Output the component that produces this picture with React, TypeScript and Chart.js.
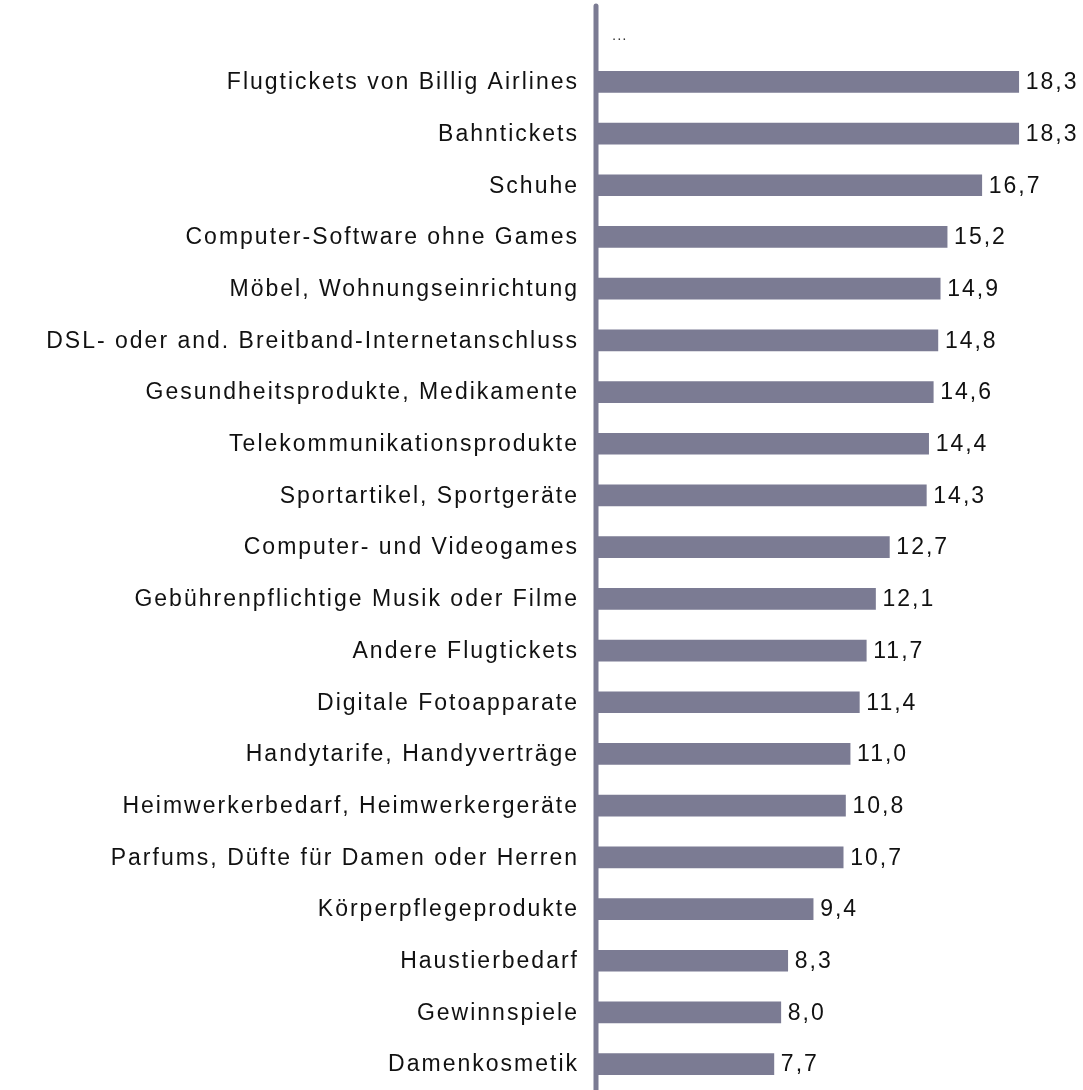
import React, { useEffect, useRef } from "react";
import { Chart, registerables } from "chart.js";

Chart.register(...registerables);

const categories: string[] = [
  "Flugtickets von Billig Airlines",
  "Bahntickets",
  "Schuhe",
  "Computer-Software ohne Games",
  "Möbel, Wohnungseinrichtung",
  "DSL- oder and. Breitband-Internetanschluss",
  "Gesundheitsprodukte, Medikamente",
  "Telekommunikationsprodukte",
  "Sportartikel, Sportgeräte",
  "Computer- und Videogames",
  "Gebührenpflichtige Musik oder Filme",
  "Andere Flugtickets",
  "Digitale Fotoapparate",
  "Handytarife, Handyverträge",
  "Heimwerkerbedarf, Heimwerkergeräte",
  "Parfums, Düfte für Damen oder Herren",
  "Körperpflegeprodukte",
  "Haustierbedarf",
  "Gewinnspiele",
  "Damenkosmetik",
];

const values: number[] = [
  18.3, 18.3, 16.7, 15.2, 14.9, 14.8, 14.6, 14.4, 14.3, 12.7, 12.1, 11.7, 11.4,
  11.0, 10.8, 10.7, 9.4, 8.3, 8.0, 7.7,
];

const headerText = "...";

const BAR_COLOR = "#7b7b93";
const FONT = '23px "Liberation Sans", Arial, sans-serif';

const fmt = (v: number) => v.toFixed(1).replace(".", ",");

const labelPlugin = {
  id: "customLabels",
  afterDatasetsDraw(chart: any) {
    const ctx = chart.ctx as CanvasRenderingContext2D;
    const yScale = chart.scales.y;
    const xScale = chart.scales.x;
    const area = chart.chartArea;
    const x0 = xScale.getPixelForValue(0);
    ctx.save();
    // axis line
    ctx.strokeStyle = BAR_COLOR;
    ctx.lineWidth = 5;
    ctx.lineCap = "round";
    ctx.beginPath();
    ctx.moveTo(x0, 6);
    ctx.lineTo(x0, chart.height + 5);
    ctx.stroke();

    (ctx as any).letterSpacing = "2px";
    ctx.font = FONT;
    ctx.fillStyle = "#111111";
    ctx.textBaseline = "middle";
    categories.forEach((c, i) => {
      const y = yScale.getPixelForValue(i);
      ctx.textAlign = "right";
      ctx.fillText(c, x0 - 17, y + 1);
      ctx.textAlign = "left";
      const xv = xScale.getPixelForValue(values[i]);
      ctx.fillText(fmt(values[i]), xv + 7, y + 1);
    });

    (ctx as any).letterSpacing = "1px";
    ctx.font = '15px "Liberation Sans", Arial, sans-serif';
    ctx.fillStyle = "#333333";
    ctx.textAlign = "left";
    ctx.fillText(headerText, x0 + 16, area.top - 20);
    ctx.restore();
  },
};

export default function App() {
  const canvasRef = useRef<HTMLCanvasElement | null>(null);

  useEffect(() => {
    if (!canvasRef.current) return;
    const chart = new Chart(canvasRef.current, {
      type: "bar",
      data: {
        labels: categories,
        datasets: [
          {
            data: values,
            backgroundColor: BAR_COLOR,
            borderWidth: 0,
            barThickness: 21,
          },
        ],
      },
      options: {
        indexAxis: "y",
        responsive: false,
        animation: false,
        devicePixelRatio: 1,
        layout: { padding: { left: 596, right: 25, top: 56, bottom: 0 } },
        plugins: {
          legend: { display: false },
          tooltip: { enabled: false },
          title: { display: false },
        },
        scales: {
          x: { display: false, min: 0, max: 20 },
          y: { display: false },
        },
      },
      plugins: [labelPlugin],
    });
    return () => chart.destroy();
  }, []);

  return (
    <div style={{ position: "absolute", left: 0, top: 0, width: 1083, height: 1090, background: "#ffffff" }}>
      <canvas ref={canvasRef} width={1083} height={1090} />
    </div>
  );
}
